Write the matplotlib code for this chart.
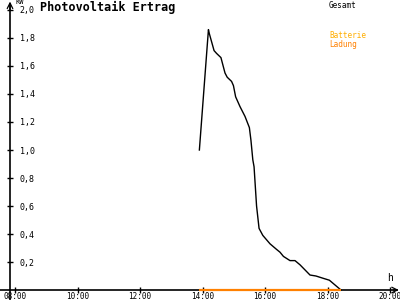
import matplotlib
matplotlib.use("Agg")
import matplotlib.pyplot as plt

# Tagesverlauf PV-Ertrag (Stunden als Dezimalzahl, kW)
zeit = [13.90, 14.19, 14.22, 14.37, 14.45, 14.59, 14.72, 14.79, 14.93, 14.99,
        15.06, 15.20, 15.36, 15.50, 15.55, 15.61, 15.65, 15.73, 15.81, 15.93,
        16.16, 16.37, 16.48, 16.59, 16.80, 16.96, 17.12, 17.44, 17.63, 17.87,
        18.06, 18.24, 18.43]
gesamt = [1.00, 1.86, 1.83, 1.71, 1.69, 1.66, 1.55, 1.52, 1.49, 1.46,
          1.38, 1.31, 1.24, 1.16, 1.07, 0.93, 0.88, 0.60, 0.44, 0.39,
          0.33, 0.29, 0.27, 0.24, 0.21, 0.21, 0.18, 0.107, 0.10, 0.083,
          0.07, 0.036, 0.0]
batterie_zeit = [13.90, 18.43]
batterie = [0.0, 0.0]

y_ticks = [0.2, 0.4, 0.6, 0.8, 1.0, 1.2, 1.4, 1.6, 1.8, 2.0]
x_ticks = [8, 10, 12, 14, 16, 18, 20]
x_labels = ["08:00", "10:00", "12:00", "14:00", "16:00", "18:00", "20:00"]

MONO = "DejaVu Sans Mono"
ORANGE = "#ff8000"

fig = plt.figure(figsize=(4, 3), dpi=100)
ax = fig.add_axes([0, 0, 1, 1])
ax.set_xlim(7.52, 20.32)
ax.set_ylim(-0.0714, 2.0714)

x0 = 7.84  # position of the y-axis
ax.spines["left"].set_position(("data", x0))
ax.spines["bottom"].set_position(("data", 0))
ax.spines["left"].set_bounds(-0.0714, 2.04)
ax.spines["bottom"].set_bounds(7.52, 20.22)
for s in ("top", "right"):
    ax.spines[s].set_visible(False)
for s in ("left", "bottom"):
    ax.spines[s].set_linewidth(1.2)

ax.plot(zeit, gesamt, color="black", linewidth=1.0)
ax.plot(batterie_zeit, batterie, color=ORANGE, linewidth=1.6,
        solid_capstyle="butt", zorder=3)

# axis arrows
ax.annotate("", xy=(x0, 2.06), xytext=(x0, 2.0),
            arrowprops=dict(arrowstyle="->", lw=0.9, color="black", shrinkA=0, shrinkB=0))
ax.annotate("", xy=(20.28, 0), xytext=(20.1, 0),
            arrowprops=dict(arrowstyle="->", lw=0.9, color="black", shrinkA=0, shrinkB=0))

ax.set_yticks(y_ticks)
ax.set_yticklabels([f"{v:.1f}".replace(".", ",") for v in y_ticks],
                   fontfamily=MONO, fontsize=6, ha="left")
ax.tick_params(axis="y", direction="inout", length=4, width=1, pad=-9)
ax.set_xticks(x_ticks)
ax.set_xticklabels(x_labels, fontfamily=MONO, fontsize=5.5)
ax.tick_params(axis="x", direction="inout", length=4, width=1, pad=-0.5)

ax.text(8.0, 2.06, "KW", fontfamily=MONO, fontsize=5, va="center", ha="left")
ax.text(20.0, 0.05, "h", fontfamily=MONO, fontsize=7, va="bottom", ha="center")

fig.text(40 / 400, 1 - 7 / 300, "Photovoltaik Ertrag", fontfamily=MONO,
         fontsize=8.5, fontweight="bold", va="center", ha="left")
fig.text(329 / 400, 1 - 5 / 300, "Gesamt", fontfamily=MONO, fontsize=5.5,
         color="black", va="center", ha="left")
fig.text(329 / 400, 1 - 36 / 300, "Batterie", fontfamily=MONO, fontsize=5.5,
         color="#ffae00", va="center", ha="left")
fig.text(329 / 400, 1 - 44 / 300, "Ladung", fontfamily=MONO, fontsize=5.5,
         color=ORANGE, va="center", ha="left")

fig.savefig("out.png", dpi=100, facecolor="white")
